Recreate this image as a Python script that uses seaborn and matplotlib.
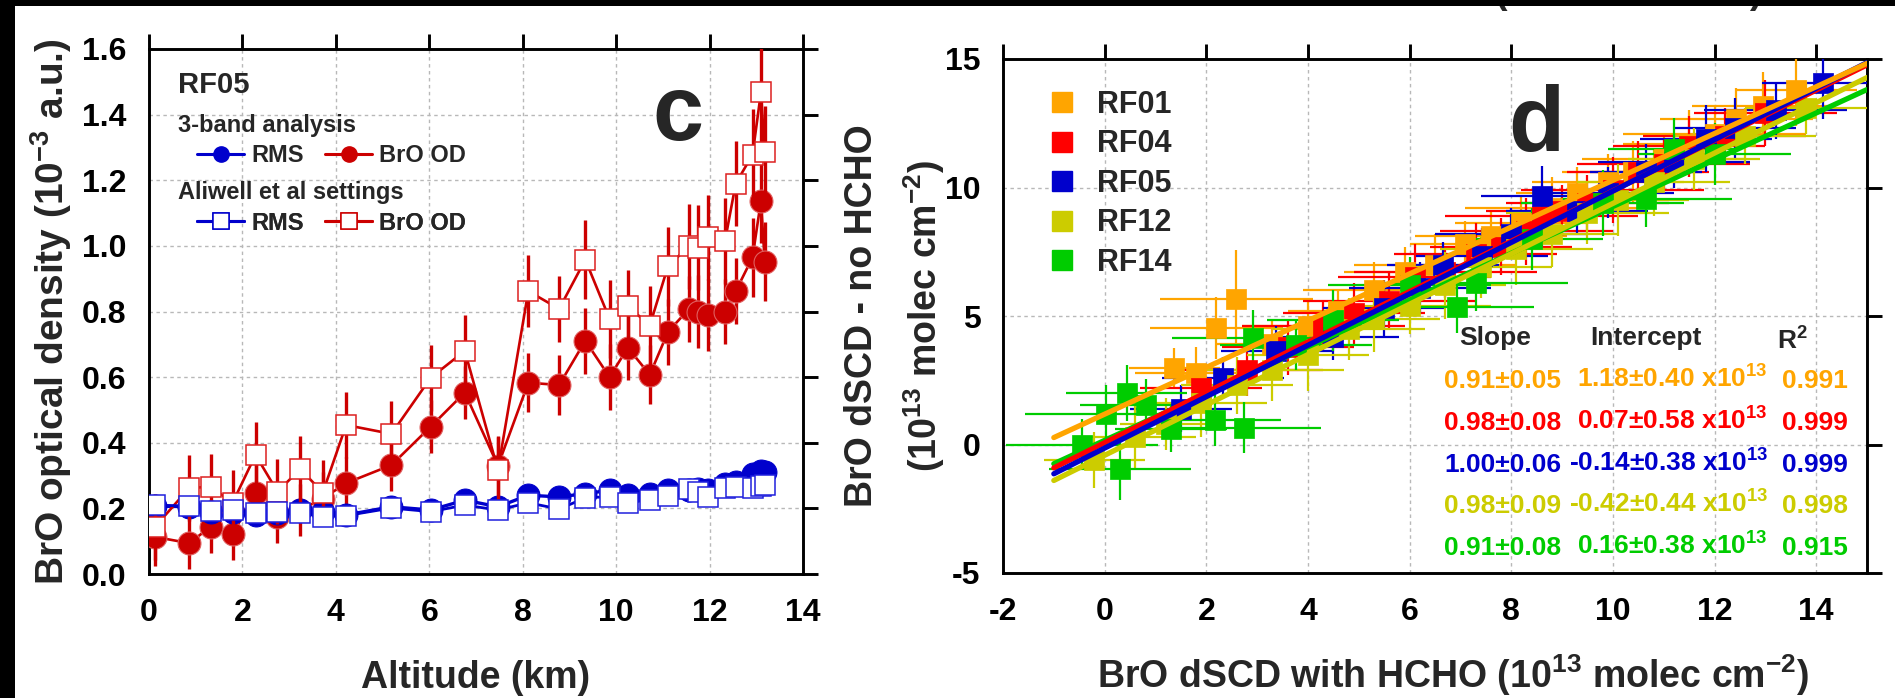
import numpy as np
import pandas as pd
import matplotlib
matplotlib.use("Agg")
import matplotlib.pyplot as plt
import seaborn as sns
from matplotlib.lines import Line2D
from matplotlib.patches import Rectangle

# ---------------- Panel c data (RF05) ----------------
altitude_km = [0.13, 0.86, 1.32, 1.79, 2.28, 2.75, 3.24, 3.72, 4.22, 5.19, 6.03, 6.76, 7.47,
               8.12, 8.78, 9.34, 9.86, 10.25, 10.72, 11.11, 11.56, 11.75, 11.97, 12.33,
               12.56, 12.92, 13.10, 13.18]
bro_od_3band = [0.113, 0.094, 0.144, 0.122, 0.246, 0.174, 0.195, 0.230, 0.277, 0.332, 0.449,
                0.553, 0.330, 0.583, 0.576, 0.711, 0.600, 0.690, 0.607, 0.738, 0.808, 0.800,
                0.790, 0.800, 0.862, 0.965, 1.138, 0.952]
bro_od_3band_err = [0.09, 0.08, 0.08, 0.08, 0.09, 0.08, 0.08, 0.08, 0.08, 0.08, 0.08, 0.08,
                    0.09, 0.09, 0.09, 0.10, 0.10, 0.10, 0.09, 0.10, 0.10, 0.11, 0.11, 0.10,
                    0.10, 0.12, 0.13, 0.12]
rms_3band = [0.207, 0.205, 0.190, 0.190, 0.180, 0.185, 0.195, 0.190, 0.180, 0.205, 0.195,
             0.225, 0.205, 0.240, 0.235, 0.245, 0.255, 0.240, 0.245, 0.255, 0.255, 0.260,
             0.255, 0.275, 0.280, 0.305, 0.315, 0.310]
bro_od_aliwell = [0.144, 0.262, 0.266, 0.217, 0.363, 0.251, 0.320, 0.248, 0.454, 0.427, 0.598,
                  0.680, 0.317, 0.862, 0.808, 0.958, 0.777, 0.817, 0.757, 0.938, 0.999, 0.995,
                  1.026, 1.015, 1.190, 1.278, 1.468, 1.287]
bro_od_aliwell_err = [0.10, 0.10, 0.10, 0.10, 0.10, 0.10, 0.10, 0.10, 0.10, 0.10, 0.10, 0.11,
                      0.10, 0.11, 0.10, 0.12, 0.12, 0.11, 0.12, 0.12, 0.13, 0.13, 0.13, 0.13,
                      0.13, 0.14, 0.15, 0.14]
rms_aliwell = [0.210, 0.207, 0.192, 0.195, 0.185, 0.190, 0.185, 0.175, 0.178, 0.201, 0.190,
               0.210, 0.195, 0.217, 0.198, 0.232, 0.236, 0.217, 0.227, 0.238, 0.258, 0.250,
               0.236, 0.262, 0.266, 0.262, 0.268, 0.270]

# ---------------- Panel d data ----------------
flights = ["RF01", "RF04", "RF05", "RF12", "RF14"]
flight_colors = ["#FFA500", "#FF0000", "#0000CC", "#CCCC00", "#00CC00"]

rf01_x = [1.37, 1.8, 2.2, 2.59, 3.3, 4.0, 4.6, 5.3, 5.9, 6.5, 7.1, 7.6, 8.2, 8.8, 9.3, 9.9,
          10.4, 11.0, 11.5, 12.0, 12.43, 12.95, 13.6]
rf01_y = [2.97, 2.8, 4.53, 5.66, 3.9, 4.6, 5.2, 6.0, 6.7, 7.0, 7.8, 8.1, 8.6, 9.2, 9.8, 10.2,
          10.6, 11.1, 11.7, 12.1, 12.67, 13.19, 13.8]
rf01_xerr = [0.9, 1.2, 1.3, 1.5, 1.1, 1.3, 1.0, 1.4, 1.2, 1.6, 1.1, 1.5, 1.3, 1.7, 1.2, 1.5,
             1.4, 1.6, 1.3, 1.8, 1.5, 1.4, 1.2]
rf01_yerr = [0.8, 1.0, 1.2, 1.9, 0.9, 1.0, 0.8, 1.1, 1.0, 1.2, 0.9, 1.0, 1.1, 1.2, 1.0, 1.1,
             1.2, 1.0, 1.3, 1.1, 1.2, 1.3, 1.4]

rf04_x = [1.9, 2.8, 3.6, 4.3, 4.9, 5.6, 6.1, 6.7, 7.3, 7.8, 8.3, 8.6, 9.0, 9.5, 10.0, 10.5,
          11.0, 11.5, 12.2, 13.0]
rf04_y = [2.2, 2.9, 3.8, 4.6, 5.1, 5.6, 6.5, 6.7, 7.4, 7.7, 8.3, 8.9, 9.1, 9.4, 9.9, 10.6,
          10.9, 11.6, 12.0, 12.9]
rf04_xerr = [1.2, 1.5, 1.3, 1.6, 1.4, 1.7, 1.5, 1.8, 1.6, 1.4, 1.7, 1.9, 1.5, 1.6, 1.8, 1.4,
             1.7, 1.5, 1.6, 1.4]
rf04_yerr = [0.9, 1.0, 1.1, 1.0, 1.2, 1.1, 1.3, 1.0, 1.2, 1.1, 1.3, 1.2, 1.0, 1.1, 1.3, 1.2,
             1.0, 1.2, 1.1, 1.3]

rf05_x = [1.5, 2.33, 3.38, 4.5, 5.5, 6.2, 6.66, 7.43, 8.0, 8.6, 9.3, 9.9, 10.65, 11.2, 11.84,
          12.4, 13.2, 14.13]
rf05_y = [1.4, 2.6, 3.62, 4.2, 5.3, 6.1, 6.98, 7.33, 8.2, 9.65, 9.1, 9.8, 10.6, 11.0, 11.9,
          12.3, 13.0, 14.05]
rf05_xerr = [1.0, 1.2, 1.1, 1.3, 1.2, 1.4, 1.1, 1.3, 1.5, 1.2, 1.4, 1.3, 1.1, 1.5, 1.3, 1.2,
             1.4, 1.2]
rf05_yerr = [0.9, 0.8, 1.0, 0.9, 1.1, 1.0, 0.9, 1.1, 1.0, 1.2, 0.9, 1.0, 1.1, 1.0, 1.3, 1.2,
             1.1, 1.4]

rf12_x = [-0.2, 0.6, 1.2, 1.9, 2.6, 3.3, 4.0, 4.8, 5.3, 6.0, 6.7, 7.4, 8.1, 8.8, 9.5, 10.1,
          10.8, 11.6, 12.6, 13.8]
rf12_y = [-0.6, 0.3, 0.8, 1.6, 2.3, 2.9, 3.5, 4.5, 4.9, 5.4, 6.2, 6.9, 7.6, 8.2, 9.0, 9.5,
          10.2, 11.1, 12.0, 13.1]
rf12_xerr = [1.0, 1.2, 0.9, 1.3, 1.1, 1.4, 1.2, 1.5, 1.3, 1.6, 1.2, 1.4, 1.5, 1.3, 1.6, 1.4,
             1.5, 1.3, 1.4, 1.2]
rf12_yerr = [1.1, 1.2, 1.0, 1.3, 1.1, 1.2, 1.4, 1.2, 1.3, 1.1, 1.3, 1.2, 1.4, 1.3, 1.2, 1.4,
             1.3, 1.2, 1.1, 1.0]

rf14_x = [-0.45, 0.03, 0.30, 0.43, 0.82, 1.3, 2.17, 2.75, 2.92, 3.77, 4.5, 6.0, 6.94, 7.31,
          8.4, 9.8, 10.65, 11.2, 12.0]
rf14_y = [0.0, 1.2, -0.95, 2.0, 1.55, 0.6, 0.95, 0.66, 4.14, 3.88, 4.83, 6.2, 5.34, 6.29,
          8.0, 9.4, 9.57, 11.5, 11.3]
rf14_xerr = [1.5, 1.6, 1.4, 1.2, 1.3, 1.1, 1.3, 1.5, 1.6, 1.5, 1.3, 1.6, 1.5, 1.8, 1.4, 1.6,
             1.7, 1.3, 1.5]
rf14_yerr = [1.0, 1.1, 1.2, 1.1, 1.0, 0.9, 1.0, 1.0, 1.1, 1.0, 1.2, 1.1, 1.0, 1.1, 1.2, 1.3,
             1.1, 1.2, 1.2]

fit_slope = [0.91, 0.98, 1.00, 0.98, 0.91]
fit_intercept = [1.18, 0.07, -0.14, -0.42, 0.16]
fit_x_range = [-1.0, 15.0]
slope_labels = ["0.91\u00b10.05", "0.98\u00b10.08", "1.00\u00b10.06", "0.98\u00b10.09", "0.91\u00b10.08"]
intercept_labels = ["1.18\u00b10.40", "0.07\u00b10.58", "-0.14\u00b10.38", "-0.42\u00b10.44", "0.16\u00b10.38"]
r2_labels = ["0.991", "0.999", "0.999", "0.998", "0.915"]

# ---------------- Style ----------------
sns.set_theme(style="white")
plt.rcParams["font.family"] = ["Liberation Sans", "DejaVu Sans"]
plt.rcParams["font.weight"] = "bold"
plt.rcParams["axes.labelweight"] = "bold"
plt.rcParams["mathtext.fontset"] = "custom"
plt.rcParams["mathtext.rm"] = "Liberation Sans:bold"
plt.rcParams["mathtext.bf"] = "Liberation Sans:bold"
plt.rcParams["mathtext.it"] = "Liberation Sans:bold"
plt.rcParams["mathtext.sf"] = "Liberation Sans:bold"
plt.rcParams["axes.unicode_minus"] = False

W, H = 1895, 698
fig = plt.figure(figsize=(W / 100, H / 100), dpi=100)
fig.patch.set_facecolor("white")


def fx(px):
    return px / W


def fy(py):
    return 1 - py / H


def fbox(l, t, r, b):
    return [l / W, 1 - b / H, (r - l) / W, (b - t) / H]


axc = fig.add_axes(fbox(149, 49, 803, 574))
axd = fig.add_axes(fbox(1003, 59, 1867, 573))

RED = "#CC0000"
BLUE = "#0000CC"


def style_axes(ax, labelsize):
    for s in ax.spines.values():
        s.set_visible(True)
        s.set_color("black")
        s.set_linewidth(2.1)
    ax.tick_params(which="major", direction="out", length=10.8, width=2.1,
                   top=True, right=True, labeltop=False, labelright=False,
                   colors="black", labelsize=labelsize)
    ax.tick_params(axis="x", pad=6.5)
    ax.tick_params(axis="y", pad=5.5)
    ax.grid(True, color="#b8b8b8", linestyle=(0, (2.5, 2.5)), linewidth=1.0)
    ax.set_axisbelow(True)
    ax.set_facecolor("white")


# ---------------- Panel c ----------------
style_axes(axc, 23)
axc.errorbar(altitude_km, bro_od_3band, yerr=bro_od_3band_err, fmt="none",
             ecolor=RED, elinewidth=2.4, capsize=0, zorder=3)
sns.lineplot(x=altitude_km, y=bro_od_3band, ax=axc, color=RED, linewidth=1.9,
             marker="o", markersize=16.5, markerfacecolor=RED, markeredgecolor="#e06060",
             markeredgewidth=0.8, sort=False, estimator=None, zorder=4)
sns.lineplot(x=altitude_km, y=rms_3band, ax=axc, color=BLUE, linewidth=2.4,
             marker="o", markersize=16.5, markerfacecolor=BLUE, markeredgecolor=BLUE,
             sort=False, estimator=None, zorder=5)
axc.errorbar(altitude_km, bro_od_aliwell, yerr=bro_od_aliwell_err, fmt="none",
             ecolor=RED, elinewidth=2.4, capsize=0, zorder=6)
sns.lineplot(x=altitude_km, y=bro_od_aliwell, ax=axc, color=RED, linewidth=1.9,
             marker="s", markersize=15, markerfacecolor="white", markeredgecolor="#dd2020",
             markeredgewidth=1.1, sort=False, estimator=None, zorder=7)
sns.lineplot(x=altitude_km, y=rms_aliwell, ax=axc, color=BLUE, linewidth=2.0,
             marker="s", markersize=15, markerfacecolor="white", markeredgecolor="#2020dd",
             markeredgewidth=1.1, sort=False, estimator=None, zorder=8)

axc.set_xlim(0, 14)
axc.set_ylim(0, 1.6)
axc.set_xticks(np.arange(0, 15, 2))
axc.set_yticks(np.arange(0, 1.61, 0.2))
axc.yaxis.set_major_formatter(matplotlib.ticker.FormatStrFormatter("%.1f"))
axc.set_xlabel("Altitude (km)", fontsize=27, fontweight="bold")
axc.xaxis.set_label_coords(0.5, (574 - 660) / 525)
axc.set_ylabel("BrO optical density (10$^{-3}$ a.u.)", fontsize=28, fontweight="bold")
axc.yaxis.set_label_coords((74 - 149) / 654, 0.5)

fig.text(fx(178), fy(93), "RF05", fontsize=21, fontweight="bold", va="baseline", ha="left")
fig.text(fx(178), fy(132), "3-band analysis", fontsize=17, fontweight="bold", va="baseline", ha="left")
fig.text(fx(178), fy(199), "Aliwell et al settings", fontsize=17, fontweight="bold", va="baseline", ha="left")
fig.text(fx(678), fy(140), "c", fontsize=66, fontweight="bold", va="baseline", ha="center")

h_rms3 = Line2D([], [], color=BLUE, lw=2.2, marker="o", markersize=11, mfc=BLUE, mec=BLUE)
h_bro3 = Line2D([], [], color=RED, lw=2.2, marker="o", markersize=11, mfc=RED, mec=RED)
h_rmsA = Line2D([], [], color=BLUE, lw=2.2, marker="s", markersize=12, mfc="white", mec=BLUE, mew=1.1)
h_broA = Line2D([], [], color=RED, lw=2.2, marker="s", markersize=12, mfc="white", mec=RED, mew=1.1)
leg_kw = dict(ncol=2, frameon=False, loc="center left", bbox_transform=fig.transFigure,
              prop={"weight": "bold", "size": 17}, handlelength=2.0, handletextpad=0.3,
              columnspacing=0.9, borderpad=0, borderaxespad=0)
leg1 = axc.legend([h_rms3, h_bro3], ["RMS", "BrO OD"], bbox_to_anchor=(fx(197), fy(156)), **leg_kw)
axc.add_artist(leg1)
leg2 = axc.legend([h_rmsA, h_broA], ["RMS", "BrO OD"], bbox_to_anchor=(fx(197), fy(223)), **leg_kw)
axc.add_artist(leg2)

# ---------------- Panel d ----------------
style_axes(axd, 23)
series = [
    (rf01_x, rf01_y, rf01_xerr, rf01_yerr),
    (rf04_x, rf04_y, rf04_xerr, rf04_yerr),
    (rf05_x, rf05_y, rf05_xerr, rf05_yerr),
    (rf12_x, rf12_y, rf12_xerr, rf12_yerr),
    (rf14_x, rf14_y, rf14_xerr, rf14_yerr),
]
for i, ((xs, ys, xe, ye), name, col) in enumerate(zip(series, flights, flight_colors)):
    axd.errorbar(xs, ys, xerr=xe, yerr=ye, fmt="none", ecolor=col, elinewidth=1.6,
                 capsize=0, zorder=3 + i * 0.1)
    df = pd.DataFrame({"x": xs, "y": ys})
    sns.scatterplot(data=df, x="x", y="y", ax=axd, marker="s", s=200, color=col,
                    edgecolor=col, linewidth=0.5, zorder=4 + i * 0.1, legend=False)

line_order = [4, 3, 1, 2, 0]
for i in line_order:
    xl = np.array(fit_x_range)
    yl = fit_slope[i] * xl + fit_intercept[i]
    sns.lineplot(x=xl, y=yl, ax=axd, color=flight_colors[i], linewidth=3.8,
                 sort=False, estimator=None, zorder=6)

axd.set_xlim(-2, 15)
axd.set_ylim(-5, 15)
axd.set_xticks(np.arange(-2, 15, 2))
axd.set_yticks([-5, 0, 5, 10, 15])
axd.set_xlabel("BrO dSCD with HCHO (10$^{13}$ molec cm$^{-2}$)", fontsize=27, fontweight="bold")
axd.xaxis.set_label_coords((1453 - 1003) / 864, (573 - 652) / 514)
axd.set_ylabel("BrO dSCD - no HCHO\n(10$^{13}$ molec cm$^{-2}$)", fontsize=27,
               fontweight="bold", linespacing=1.6)
axd.yaxis.set_label_coords((947 - 1003) / 864, 0.5)

fig.text(fx(1536), fy(151), "d", fontsize=66, fontweight="bold", va="baseline", ha="center")

handles_d = [Line2D([], [], ls="none", marker="s", markersize=14.5, mfc=c, mec=c) for c in flight_colors]
axd.legend(handles_d, flights, frameon=False, loc="upper left", bbox_transform=fig.transFigure,
           bbox_to_anchor=(fx(1051), fy(90)), prop={"weight": "bold", "size": 22},
           handlelength=0.7, handletextpad=0.8, labelspacing=0.31, borderpad=0, borderaxespad=0)

# table of fit results
fig.text(fx(1495), fy(338), "Slope", fontsize=19, fontweight="bold", ha="center", va="center")
fig.text(fx(1646), fy(338), "Intercept", fontsize=19, fontweight="bold", ha="center", va="center")
fig.text(fx(1777), fy(350), "R$^{2}$", fontsize=19, fontweight="bold", ha="left", va="baseline")
row_baselines = [388, 430, 472, 513, 555]
for i in range(5):
    col = flight_colors[i]
    fig.text(fx(1444), fy(row_baselines[i]), slope_labels[i], fontsize=19, fontweight="bold",
             color=col, ha="left", va="baseline")
    fig.text(fx(1768), fy(row_baselines[i]), intercept_labels[i] + " x10$^{13}$", fontsize=19,
             fontweight="bold", color=col, ha="right", va="baseline")
    fig.text(fx(1782), fy(row_baselines[i]), r2_labels[i], fontsize=19, fontweight="bold",
             color=col, ha="left", va="baseline")

# clipped title fragment and black frame edges
fig.text(fx(1500), fy(3), "(", fontsize=27, fontweight="bold", ha="center", va="baseline")
fig.text(fx(1755), fy(3), ")", fontsize=27, fontweight="bold", ha="center", va="baseline")
fig.add_artist(Rectangle((0, 1 - 6 / H), 1, 6 / H, transform=fig.transFigure,
                         facecolor="black", edgecolor="none", zorder=20))
fig.add_artist(Rectangle((0, 0), 15 / W, 1, transform=fig.transFigure,
                         facecolor="black", edgecolor="none", zorder=20))

fig.savefig("out.png", dpi=100, facecolor="white")
